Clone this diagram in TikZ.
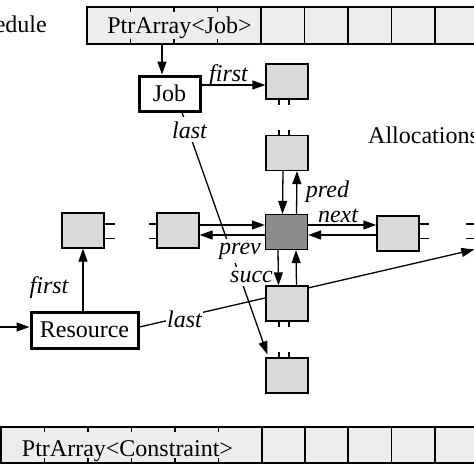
\documentclass[tikz,border=0pt]{standalone}
\usepackage{fontspec}
\setmainfont{Liberation Serif}
\usetikzlibrary{arrows.meta,backgrounds}
\begin{document}
\begin{tikzpicture}[x=1pt,y=-1pt,
  lw/.style={line width=1.3pt},
  txt/.style={font=\fontsize{24}{28}\selectfont,inner sep=0pt},
  sbox/.style={draw,lw,fill=black!15,minimum width=42pt,minimum height=35pt,inner sep=0pt},
  cbox/.style={sbox,fill=black!45},
  tbox/.style={draw,line width=3pt,fill=white,minimum height=35pt,inner sep=0pt,font=\fontsize{24}{28}\selectfont},
  arr/.style={lw,-{Triangle[length=13pt,width=9pt]}},
  lbl/.style={font=\fontsize{24}{28}\selectfont\itshape,fill=white,inner xsep=1pt,inner ysep=4pt,anchor=base},
  arrfill/.style={draw,lw,fill=black!7}]
\useasboundingbox (0,0) rectangle (474,474);
\clip (0,0) rectangle (474,474);
% helper coordinates
\coordinate (t1) at (0,224);
\coordinate (t2) at (0,238.5);
\coordinate (tx1) at (279,0);
\coordinate (tx2) at (289,0);
% arrays
\draw[arrfill] (87,7) rectangle (530,44);
\foreach \x in {130.5,174,217.5} {\draw[lw] (\x,7) -- (\x,12); \draw[lw] (\x,39) -- (\x,44);}
\foreach \x in {261,304.5,348,391.5,435,478.5} \draw[lw] (\x,7) -- (\x,44);
\node[txt,anchor=base] (jobarr) at (179.5,33) {PtrArray<Job>};
\coordinate (jobcell) at (162,44);
\draw[arrfill] (-50,427) rectangle (530,463);
\foreach \x in {44.5,88,131.5,175,218.5} {\draw[lw] (\x,427) -- (\x,432); \draw[lw] (\x,458) -- (\x,463);}
\foreach \x in {1,262,305,348,391.5,435,478.5} \draw[lw] (\x,427) -- (\x,463);
\node[txt,anchor=base] (conarr) at (127.5,456) {PtrArray<Constraint>};
% titles
\node[txt,anchor=base east] (sched) at (47,32) {Schedule};
\node[txt,anchor=base west] (alloc) at (368,143) {Allocations};
% labels
\node[lbl] (lfirst) at (228.5,81) {first};
\node[lbl] (llast) at (189.5,138) {last};
\node[lbl] (lpred) at (327.5,197) {pred};
\node[lbl] (lnext) at (338,222) {next};
\node[lbl] (lprev) at (240,254) {prev};
\node[lbl] (lsucc) at (251.5,282) {succ};
\node[lbl] (rfirst) at (49,293) {first};
\node[lbl] (rlast) at (184.5,327) {last};
% boxes
\node[tbox,minimum width=61pt] (job) at (169.5,93.5) {Job};
\node[tbox,minimum width=107pt,minimum height=36pt] (res) at (84.5,330) {Resource};
\node[sbox] (fbox1) at (287,81.5) {};
\node[sbox] (above) at (287,153) {};
\node[cbox] (center) at (286.5,232) {};
\node[sbox] (right) at (398,233.5) {};
\node[sbox] (leftb) at (178,230.5) {};
\node[sbox] (farleft) at (83,230.5) {};
\node[sbox] (low) at (287,303.5) {};
\node[sbox] (bottom) at (287,375.5) {};
\node[sbox] (offr) at (496,233.5) {};
% long pointers behind
\coordinate (jl) at ([xshift=12.5pt]job.south);
\coordinate (jle) at ([xshift=2pt,yshift=3pt]bottom.north west);
\coordinate (rl) at ([yshift=3pt]res.east);
\coordinate (rle) at ([yshift=-16pt]offr.west);
\begin{scope}[on background layer]
\draw[arr] (jl) -- (jle);
\draw[arr] (rl) -- (rle);
\end{scope}
% arrows
\draw[arr] (jobcell) -- (jobcell |- job.north);
\coordinate (f1) at (0,85);
\draw[arr] (job.east |- f1) -- (fbox1.west |- f1);
\draw[arr] ([xshift=-4pt]above.south) -- ([xshift=-4pt]center.north);
\draw[arr] ([xshift=10pt]center.north) -- ([xshift=10pt]above.south);
\draw[arr] ([xshift=-8.5pt]center.south) -- ([xshift=-8.5pt]low.north);
\draw[arr] ([xshift=9.5pt]low.north) -- ([xshift=9.5pt]center.south);
\coordinate (h1) at (0,225);
\coordinate (h2) at (0,235);
\draw[arr] (center.east |- h1) -- (right.west |- h1);
\draw[arr] (right.west |- h2) -- (center.east |- h2);
\draw[arr] (leftb.east |- h1) -- (center.west |- h1);
\draw[arr] (center.west |- h2) -- (leftb.east |- h2);
\draw[arr] (farleft.south |- res.north) -- (farleft.south);
\coordinate (resin) at (0,327);
\draw[arr] (resin) -- (resin -| res.west);
% ticks
\foreach \t in {tx1,tx2} {
  \draw[lw] (fbox1.south -| \t) -- ++(0pt,-5pt);
  \draw[lw] (above.north -| \t) -- ++(0pt,5pt);
  \draw[lw] (low.south -| \t) -- ++(0pt,-5pt);
  \draw[lw] (bottom.north -| \t) -- ++(0pt,5pt);
}
\foreach \t in {t1,t2} {
  \draw[lw] (farleft.east |- \t) -- ++(10pt,0pt);
  \draw[lw] (leftb.west |- \t) -- ++(-7pt,0pt);
  \draw[lw] (right.east |- \t) -- ++(9pt,0pt);
  \draw[lw] (offr.west |- \t) -- ++(-8pt,0pt);
}
\end{tikzpicture}
\end{document}
